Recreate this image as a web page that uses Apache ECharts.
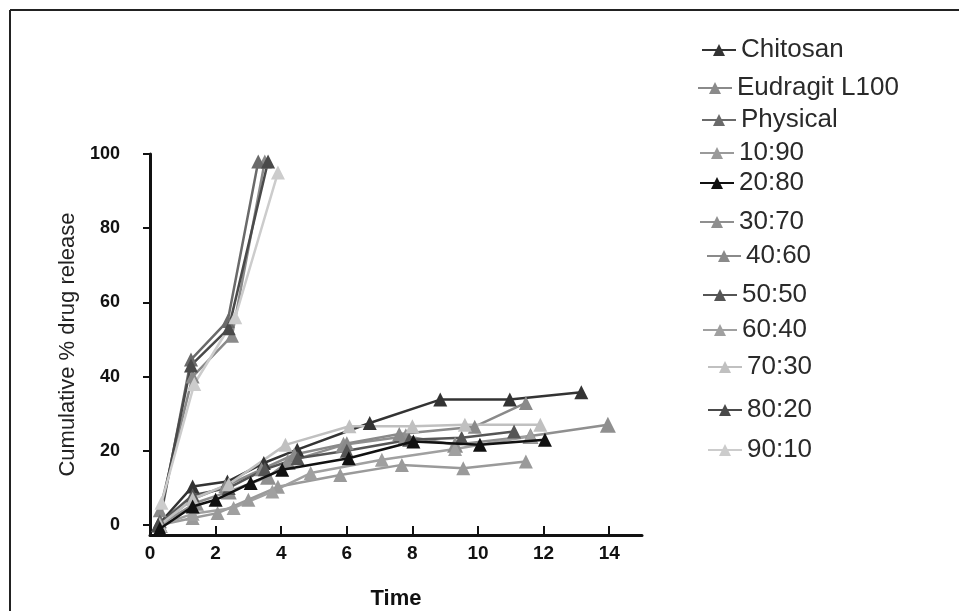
<!DOCTYPE html>
<html>
<head>
<meta charset="utf-8">
<script src="https://cdn.jsdelivr.net/npm/echarts@6/dist/echarts.min.js"></script>
<style>html,body{margin:0;padding:0;background:#fff}#c{width:959px;height:611px}</style>
</head>
<body>
<div id="c"></div>
<script>
// ---- data (time in h, cumulative % drug release) ----
const seriesNames = ["Chitosan","Eudragit L100","Physical","10:90","20:80","30:70","40:60","50:50","60:40","70:30","80:20","90:10"];
const chitosanTime = [0.25, 1.3, 2.36, 3.47, 4.49, 6.7, 8.85, 10.97, 13.15];
const chitosanRelease = [0, 10.4, 11.7, 16.7, 20.3, 27.5, 33.8, 33.8, 35.8];
const eudragitTime = [0.3, 1.3, 2.5, 3.5];
const eudragitRelease = [4, 40, 51, 98];
const physicalTime = [0.3, 1.25, 2.37, 3.3];
const physicalRelease = [1, 44.6, 55, 98];
const r1090Time = [0.3, 1.3, 2.06, 3.0, 3.9, 5.8, 7.68, 9.55, 11.46];
const r1090Release = [0, 1.9, 3.2, 6.8, 10.3, 13.5, 16.2, 15.3, 17.1];
const r2080Time = [0.3, 1.3, 2.0, 3.07, 4.03, 6.06, 8.03, 10.06, 12.04];
const r2080Release = [-1, 5, 6.8, 11.3, 14.9, 18, 22.5, 21.6, 23];
const r3070Time = [0.3, 1.4, 2.4, 3.6, 4.2, 5.9, 7.8, 9.3, 11.6, 13.96];
const r3070Release = [0, 6, 9, 13, 17, 21.6, 23.9, 21.6, 24, 27];
const r4060Time = [0.3, 1.3, 2.3, 3.4, 4.4, 6.0, 7.6, 9.9, 11.46];
const r4060Release = [0, 7, 10.5, 15, 19, 22, 24.5, 26.5, 32.9];
const r5050Time = [0.25, 1.3, 2.4, 3.5, 4.5, 6.0, 7.9, 9.5, 11.1];
const r5050Release = [0, 8, 10, 15, 18, 20, 23, 23.5, 25.2];
const r6040Time = [0.3, 1.3, 2.55, 3.73, 4.9, 7.07, 9.3, 11.6];
const r6040Release = [0, 3, 4.6, 9, 14, 17.6, 20.5, 23.9];
const r7030Time = [0.3, 1.3, 2.4, 4.13, 6.08, 8.0, 9.6, 11.9];
const r7030Release = [0, 7, 11, 21.6, 26.6, 26.6, 27, 27];
const r8020Time = [0.25, 1.25, 2.4, 3.6];
const r8020Release = [0, 43, 53, 98];
const r9010Time = [0.35, 1.35, 2.6, 3.9];
const r9010Release = [6, 38, 56, 95];
const xTickValues = [0, 2, 4, 6, 8, 10, 12, 14];
const yTickValues = [0, 20, 40, 60, 80, 100];

const allTimes = [chitosanTime, eudragitTime, physicalTime, r1090Time, r2080Time, r3070Time, r4060Time, r5050Time, r6040Time, r7030Time, r8020Time, r9010Time];
const allReleases = [chitosanRelease, eudragitRelease, physicalRelease, r1090Release, r2080Release, r3070Release, r4060Release, r5050Release, r6040Release, r7030Release, r8020Release, r9010Release];

// ---- styles ----
const colors = ['#333333','#8a8a8a','#6a6a6a','#9a9a9a','#111111','#8f8f8f','#8a8a8a','#555555','#a0a0a0','#c0c0c0','#4a4a4a','#cccccc'];
const symbolSizes = [14,14,14,14,14,16,14,14,14,14,14,14];
const legendTops = [32, 70, 102, 135, 165, 204, 238, 277, 312, 349, 392, 432];
const legendLefts = [696, 692, 696, 694, 694, 694, 701, 697, 697, 702, 702, 702];

const series = seriesNames.map((n, i) => ({
  name: n,
  type: 'line',
  data: allTimes[i].map((t, j) => [t, allReleases[i][j]]),
  symbol: 'triangle',
  symbolSize: symbolSizes[i],
  showSymbol: true,
  lineStyle: { color: colors[i], width: 2.5 },
  itemStyle: { color: colors[i] },
  z: 2 + (i === 4 ? 1 : 0),
  animation: false
}));

const legends = seriesNames.map((n, i) => ({
  data: [n],
  left: legendLefts[i],
  top: legendTops[i],
  itemWidth: 34,
  itemHeight: 15,
  textStyle: { fontSize: 26, color: '#2a2a2a', fontFamily: 'Liberation Sans, Arial, sans-serif' },
  selectedMode: false
}));

const chart = echarts.init(document.getElementById('c'));
chart.setOption({
  backgroundColor: '#ffffff',
  animation: false,
  color: colors,
  textStyle: { fontFamily: 'Liberation Sans, Arial, sans-serif' },
  grid: { left: 150, right: 317, top: 154, bottom: 76, containLabel: false, outerBoundsMode: 'none' },
  legend: legends,
  xAxis: {
    type: 'value',
    min: 0, max: 15,
    name: 'Time',
    nameLocation: 'middle',
    nameGap: 53,
    nameTextStyle: { fontSize: 22, fontWeight: 'bold', color: '#111' },
    axisLine: { show: true, onZero: false, lineStyle: { color: '#111', width: 3 } },
    axisTick: { show: true, inside: true, length: 9, lineStyle: { color: '#111', width: 2 }, customValues: xTickValues },
    axisLabel: { fontSize: 19, fontWeight: 'bold', color: '#111', margin: 9, customValues: xTickValues },
    splitLine: { show: false }
  },
  yAxis: {
    type: 'value',
    min: -2.7, max: 100,
    name: 'Cumulative % drug release',
    nameLocation: 'middle',
    nameGap: 71,
    nameTextStyle: { fontSize: 22, color: '#222' },
    axisLine: { show: true, onZero: false, lineStyle: { color: '#111', width: 3 } },
    axisTick: { show: true, inside: false, length: 7, lineStyle: { color: '#111', width: 2 }, customValues: yTickValues },
    axisLabel: { fontSize: 18, fontWeight: 'bold', color: '#111', margin: 30, customValues: yTickValues },
    splitLine: { show: false }
  },
  graphic: [
    { type: 'line', shape: { x1: 10, y1: 10, x2: 959, y2: 10 }, style: { stroke: '#222', lineWidth: 2 } },
    { type: 'line', shape: { x1: 10, y1: 10, x2: 10, y2: 611 }, style: { stroke: '#222', lineWidth: 2 } }
  ],
  series: series
});
</script>
</body>
</html>
